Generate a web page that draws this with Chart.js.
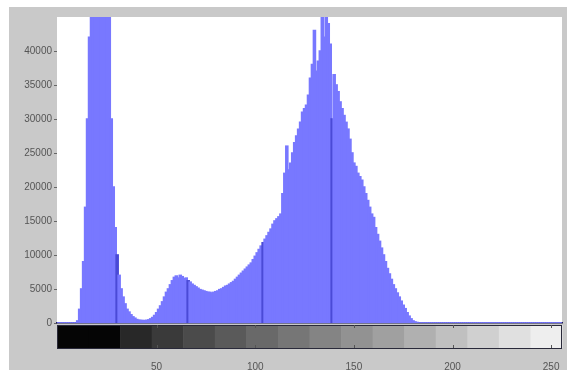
<!DOCTYPE html>
<html>
<head>
<meta charset="utf-8">
<script src="https://cdn.jsdelivr.net/npm/chart.js@4"></script>
<style>
  html, body { margin: 0; padding: 0; background: #fff; }
  #wrap { width: 572px; height: 374px; }
</style>
</head>
<body>
<div id="wrap"><canvas id="hist" width="572" height="374"></canvas></div>
<script>
// gray levels 0..255 and pixel counts per level
const levels = Array.from({ length: 256 }, (_, i) => i);
const countsLow = [
  0, 0, 0, 0, 0, 0, 0, 0, 0, 0,
  300, 2000, 5000, 9000, 17000, 30000, 42000, 52000, 60000, 60000,
  60000, 60000, 60000, 60000, 60000, 60000, 50000, 30000, 20000, 14000,
  10000, 7000, 5000, 3800, 2800, 2000, 1600, 1200, 900, 700,
  500, 400, 380, 350, 350, 380, 450, 600, 800, 1100,
  1500, 2000, 2500, 3100, 3800, 4500, 5000, 5600, 6200, 6700,
  6900, 6600, 7000, 6800, 6500, 6600, 6200, 6000, 5700, 5500,
  5300, 5100, 4900, 4800, 4700, 4600, 4500, 4500, 4400, 4500,
  4600, 4700, 4900, 5000, 5200, 5400, 5500, 5700, 5900, 6100,
  6400, 6700, 7000, 7300, 7600, 7900, 8200, 8500, 8800, 9300,
  9800, 10300, 10800, 11300, 11800, 12300, 12800, 13300, 13800, 14500,
  15000, 15300, 15600, 16000, 19000, 22000, 26000, 22500, 23500, 25000,
  26500, 27500, 28500
];
const countsHigh = [
  29500, 31000, 31500, 32000, 33500, 36000, 38000, 43000, 37000, 38500,
  40000, 46000, 42000, 47000, 44000, 41000, 30000, 36500, 35000, 34000,
  32500, 31500, 30500, 29500, 28500, 27000, 25000, 23500, 23000, 22000,
  21500, 21000, 20000, 19000, 18000, 17000, 16000, 15500, 14000, 13000,
  12000, 11000, 10000, 9000, 8000, 7200, 6400, 5600, 5000, 4400,
  3800, 3200, 2600, 2100, 1500, 1000, 600, 300, 150, 50
];
const counts = countsLow.concat(countsHigh);
while (counts.length < 256) counts.push(0);

// levels where the stems show up as darker lines
const darkLevels = [30, 66, 104, 139];
const yTicks = [0, 5000, 10000, 15000, 20000, 25000, 30000, 35000, 40000];
const xTicks = [50, 100, 150, 200, 250];

const barColors = levels.map(v => darkLevels.includes(v) ? "#4a4ad6" : "#7878ff");

// gray frame + white plot area + grayscale colorbar under the axes
const frame = {
  id: "frame",
  beforeDraw(chart) {
    const { ctx, chartArea: a } = chart;
    ctx.save();
    ctx.fillStyle = "#ffffff";
    ctx.fillRect(0, 0, chart.width, chart.height);
    ctx.fillStyle = "#c9c9c9";
    ctx.fillRect(9, 7, 558, 363);
    ctx.fillStyle = "#ffffff";
    ctx.fillRect(a.left, a.top, a.right - a.left, a.bottom - a.top);
    ctx.restore();
  },
  afterDraw(chart) {
    const { ctx, chartArea: a } = chart;
    const xs = chart.scales.x;
    const top = a.bottom + 2, h = 23;
    const half = (xs.width / 256) / 2;
    ctx.save();
    const shades = [5, 5, 40, 58, 75, 90, 105, 118, 132, 146, 160, 176, 192, 208, 224, 238];
    shades.forEach((g, i) => {
      const x0 = xs.getPixelForValue(i * 16) - half;
      const x1 = i === shades.length - 1 ? a.right : xs.getPixelForValue(i * 16 + 16) - half;
      ctx.fillStyle = `rgb(${g},${g},${g})`;
      ctx.fillRect(x0, top, x1 - x0 + 0.5, h);
    });
    ctx.strokeStyle = "#2a2a3a";
    ctx.lineWidth = 1;
    ctx.strokeRect(a.left + 0.5, top + 0.5, a.right - a.left - 1, h);
    // small ticks on the colorbar
    ctx.strokeStyle = "#555";
    xTicks.forEach(t => {
      const x = Math.round(xs.getPixelForValue(t)) + 0.5;
      ctx.beginPath();
      ctx.moveTo(x, top); ctx.lineTo(x, top + 3);
      ctx.moveTo(x, top + h); ctx.lineTo(x, top + h - 3);
      ctx.stroke();
    });
    ctx.restore();
  }
};

new Chart(document.getElementById("hist"), {
  type: "bar",
  data: {
    labels: levels,
    datasets: [{
      data: counts,
      backgroundColor: barColors,
      borderWidth: 0,
      inflateAmount: 0.8,
      barPercentage: 1,
      categoryPercentage: 1
    }]
  },
  options: {
    responsive: false,
    animation: false,
    layout: { padding: { left: 0, right: 10, top: 17, bottom: 0 } },
    plugins: { legend: { display: false }, tooltip: { enabled: false } },
    scales: {
      x: {
        afterFit: s => { s.height = 51; s.paddingLeft = 0; s.paddingRight = 0; },
        grid: { display: false },
        border: { display: true, color: "#1e1e50", width: 1.5 },
        ticks: {
          autoSkip: false,
          maxRotation: 0,
          padding: 30,
          color: "#555",
          font: { family: "Liberation Sans", size: 10 },
          callback: (val, i) => xTicks.includes(levels[i]) ? String(levels[i]) : null
        }
      },
      y: {
        min: 0,
        max: 45000,
        afterFit: s => { s.width = 57; s.paddingTop = 0; s.paddingBottom = 0; },
        afterBuildTicks: s => { s.ticks = yTicks.map(v => ({ value: v })); },
        grid: { drawOnChartArea: false, drawTicks: true, tickLength: 3, color: "#666" },
        border: { display: false },
        ticks: {
          padding: 2,
          color: "#555",
          font: { family: "Liberation Sans", size: 10 },
          callback: v => String(v)
        }
      }
    }
  },
  plugins: [frame]
});
</script>
</body>
</html>
